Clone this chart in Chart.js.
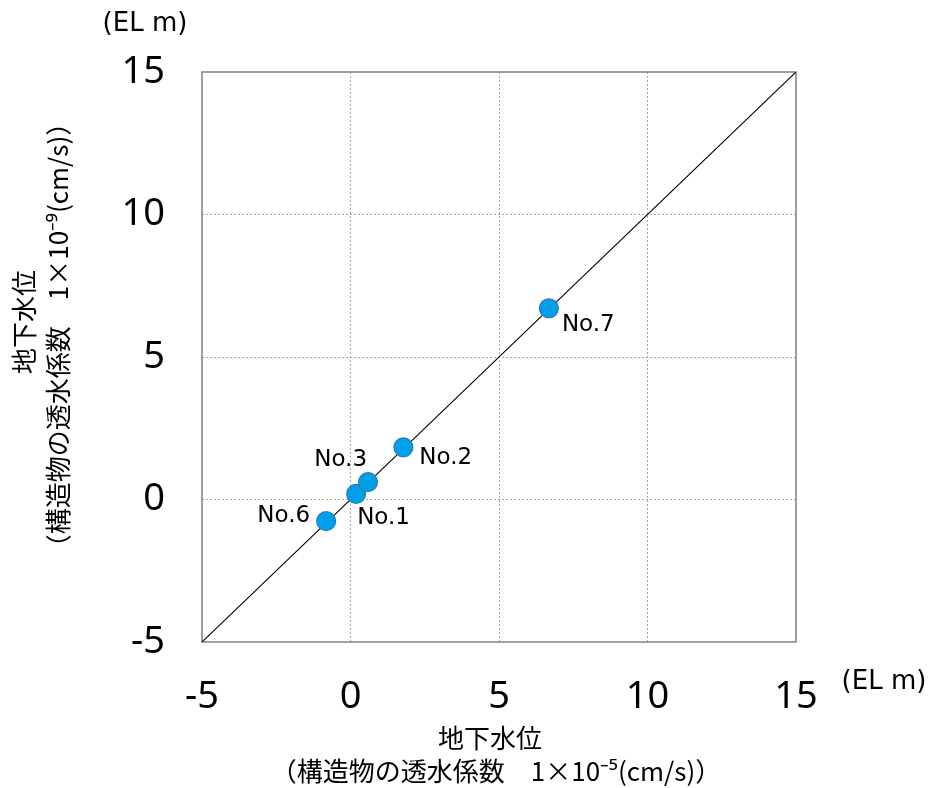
<!DOCTYPE html>
<html><head><meta charset="utf-8">
<script src="https://cdn.jsdelivr.net/npm/chart.js@4"></script>
<style>html,body{margin:0;padding:0;background:#fff}#wrap{width:930px;height:788px}</style>
</head><body><div id="wrap"><canvas id="c" width="930" height="788"></canvas></div>
<script>
// ---- data ----
const pointNames = ['No.1', 'No.2', 'No.3', 'No.6', 'No.7'];
const xValues = [0.19, 1.78, 0.59, -0.82, 6.68];
const yValues = [0.20, 1.83, 0.61, -0.76, 6.71];
const diagonalX = [-5, 15];
const diagonalY = [-5, 15];
const tickValues = [-5, 0, 5, 10, 15];
const unitLabel = '(EL m)';
const xTitle = ['地下水位', '（構造物の透水係数　1×10⁻⁵(cm/s)）'];
const yTitle = ['地下水位', '（構造物の透水係数　1×10⁻⁹(cm/s)）'];

// label placement (style)
const labelStyle = {
  'No.1': {dx: 1, dy: 24, align: 'left'},
  'No.2': {dx: 16, dy: 11, align: 'left'},
  'No.3': {dx: -1, dy: -22, align: 'right'},
  'No.6': {dx: -16, dy: -5, align: 'right'},
  'No.7': {dx: 13, dy: 17, align: 'left'}
};

const JP = '"Noto Sans CJK JP", "Noto Sans", sans-serif';
const LAT = '"DejaVu Sans", sans-serif';

const pts = xValues.map((x, i) => ({x, y: yValues[i], name: pointNames[i]}));
const diag = diagonalX.map((x, i) => ({x, y: diagonalY[i]}));

const extras = {
  id: 'extras',
  beforeDatasetsDraw(chart) {
    const {ctx, chartArea: a} = chart;
    ctx.save();
    ctx.strokeStyle = '#808080';
    ctx.lineWidth = 1.5;
    ctx.strokeRect(a.left, a.top, a.right - a.left, a.bottom - a.top);
    ctx.restore();
  },
  afterDraw(chart) {
    const {ctx, chartArea: a} = chart;
    const meta = chart.getDatasetMeta(1);
    ctx.save();
    ctx.fillStyle = '#000';
    ctx.font = '23px ' + LAT;
    ctx.textBaseline = 'middle';
    meta.data.forEach((el, i) => {
      const name = pts[i].name;
      const s = labelStyle[name];
      ctx.textAlign = s.align;
      ctx.fillText(name, el.x + s.dx, el.y + s.dy);
    });
    // unit labels
    ctx.font = '26px ' + LAT;
    ctx.textAlign = 'center';
    ctx.fillText(unitLabel, 145, 24);
    ctx.fillText(unitLabel, 884, 682);
    // x title
    ctx.font = '26px ' + JP;
    const cx = (a.left + a.right) / 2;
    ctx.fillText(xTitle[0], cx - 9, 738);
    ctx.fillText(xTitle[1], cx - 3, 771);
    // y title
    ctx.save();
    ctx.translate(24, 322);
    ctx.rotate(-Math.PI / 2);
    ctx.fillText(yTitle[0], 0, 0);
    ctx.restore();
    ctx.save();
    ctx.translate(58, 335);
    ctx.rotate(-Math.PI / 2);
    ctx.fillText(yTitle[1], 0, 0);
    ctx.restore();
    ctx.restore();
  }
};

const gridColor = (c) => (c.tick && (c.tick.value === -5 || c.tick.value === 15)) ? 'rgba(0,0,0,0)' : '#a6a6a6';

new Chart(document.getElementById('c'), {
  data: {
    datasets: [
      {type: 'line', data: diag, borderColor: '#000', borderWidth: 1.1, pointRadius: 0, fill: false, order: 2},
      {type: 'scatter', data: pts, backgroundColor: '#00A0E9', borderColor: '#2C7BC0', borderWidth: 1.2, pointRadius: 9.5, pointHoverRadius: 9.5, order: 1}
    ]
  },
  options: {
    responsive: false,
    devicePixelRatio: 1,
    animation: false,
    events: [],
    layout: {padding: {top: 72, right: 134, left: 0, bottom: 0}},
    plugins: {legend: {display: false}, tooltip: {enabled: false}},
    scales: {
      x: {
        type: 'linear', min: -5, max: 15,
        afterBuildTicks: (s) => { s.ticks = tickValues.map(v => ({value: v})); },
        afterFit: (s) => { s.height = 146; },
        ticks: {color: '#000', font: {family: 'Noto Sans', size: 38}, padding: 32, maxRotation: 0},
        grid: {color: gridColor, lineWidth: 1, drawTicks: false},
        border: {display: false, dash: [2, 2]}
      },
      y: {
        type: 'linear', min: -5, max: 15,
        afterBuildTicks: (s) => { s.ticks = tickValues.map(v => ({value: v})); },
        afterFit: (s) => { s.width = 202; },
        ticks: {color: '#000', font: {family: 'Noto Sans', size: 38}, padding: 37},
        grid: {color: gridColor, lineWidth: 1, drawTicks: false},
        border: {display: false, dash: [2, 2]}
      }
    }
  },
  plugins: [extras]
});
</script>
</body></html>
